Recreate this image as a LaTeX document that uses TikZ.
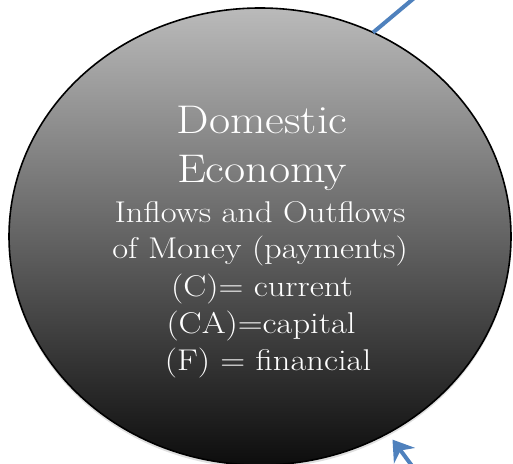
\documentclass[tikz,border=0pt]{standalone}
\usepackage{fontspec}
\setmainfont{Latin Modern Roman}[FakeStretch=1.15]
\usetikzlibrary{shapes.geometric,arrows.meta,shadows}
\definecolor{flowblue}{RGB}{79,129,189}
\definecolor{shadetop}{gray}{0.73}
\definecolor{shademid}{gray}{0.55}
\definecolor{shadebot}{gray}{0.05}
\tikzset{
  flow/.style={draw=flowblue,line width=4pt},
  bigtext/.style={text=white,anchor=base,font=\fontsize{40}{48}\selectfont},
  smalltext/.style={text=white,anchor=base,font=\fontsize{30}{36}\selectfont}
}
\begin{document}
\begin{tikzpicture}[x=1pt,y=-1pt]
  \useasboundingbox (0,0) rectangle (513,463);
  \clip (0,0) rectangle (513,463);
  \node (economy) at (260,236.5)
    [ellipse,draw,line width=1.6pt,minimum width=502pt,minimum height=457pt,
     inner sep=0pt,outer sep=0pt,top color=shadetop,middle color=shademid,
     bottom color=shadebot,
     drop shadow={opacity=0.25,shadow xshift=0pt,shadow yshift=-3pt}] {};

  \node (head1) at (262,133) [bigtext] {Domestic};
  \node (head2) at (262,182) [bigtext] {Economy};
  \node (line1) at (260,222) [smalltext] {Inflows and Outflows};
  \node (line2) at (260,258) [smalltext] {of Money (payments)};
  \node (line3) at (262,296) [smalltext] {(C)= current};
  \node (line4) at (261,333) [smalltext] {(CA)=capital};
  \node (line5) at (268,370) [smalltext] {(F) = financial};

  \coordinate (outflow) at (450,-32);
  \coordinate (inflow) at (427,486);
  \path[flow] (economy.61.8) -- (outflow);
  \path[flow,-{Stealth[length=20pt,width=26pt]},shorten >=8pt]
     (inflow) -- (economy.-57);
\end{tikzpicture}
\end{document}
